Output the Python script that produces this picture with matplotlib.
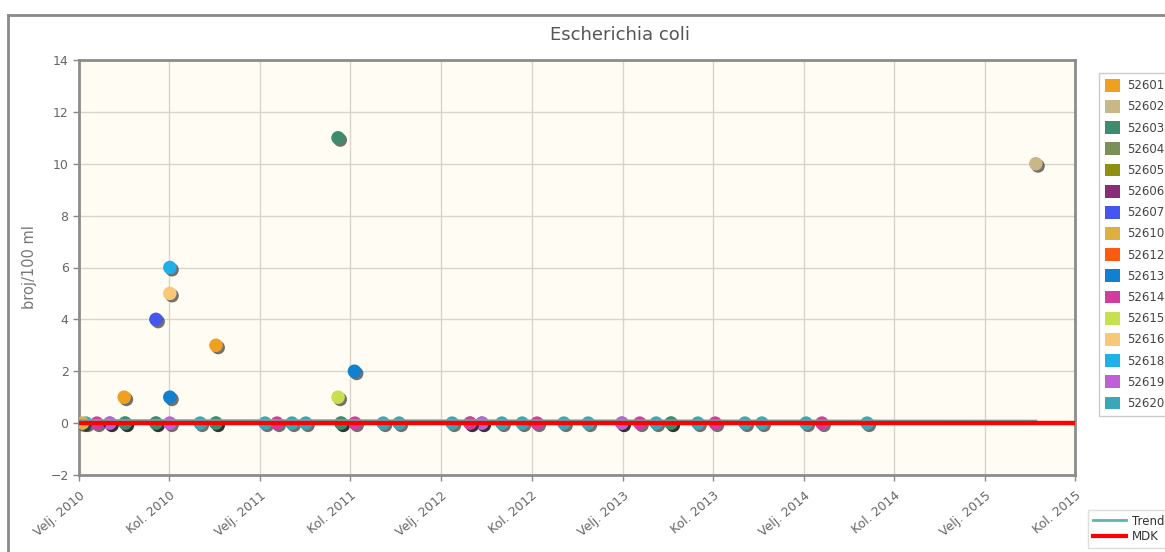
import numpy as np
import matplotlib
matplotlib.use("Agg")
import matplotlib.pyplot as plt
import matplotlib.patheffects as pe
from matplotlib.patches import Patch
from matplotlib.lines import Line2D
from datetime import date

# ---------------------------------------------------------------------
# data
stations = ["52601", "52602", "52603", "52604", "52605", "52606", "52607", "52610",
            "52612", "52613", "52614", "52615", "52616", "52618", "52619", "52620"]
colors = ["#f0a020", "#c8b888", "#3d8c6e", "#7a9058", "#909010", "#8a2c7a", "#4455f0", "#ddb040",
          "#ff5a10", "#1080d0", "#d03ca0", "#c8e050", "#f8c878", "#20b0e8", "#c060d8", "#38a8b8"]

s52601_dates = ["2010-05-03", "2010-11-04"]
s52601_vals = [1, 3]
s52602_dates = ["2015-05-14"]
s52602_vals = [10]
s52603_dates = ["2010-05-05", "2010-07-06", "2010-11-04", "2011-07-08", "2011-07-14",
                "2012-03-30", "2013-05-09"]
s52603_vals = [0, 0, 0, 11, 0, 0, 0]
s52607_dates = ["2010-07-06"]
s52607_vals = [4]
s52610_dates = ["2010-02-08"]
s52610_vals = [0]
s52613_dates = ["2010-08-03", "2011-08-10"]
s52613_vals = [1, 2]
s52614_dates = ["2010-03-09", "2011-03-07", "2011-08-11", "2012-03-30", "2012-08-12",
                "2013-03-07", "2013-08-06", "2014-03-09"]
s52614_vals = [0, 0, 0, 0, 0, 0, 0, 0]
s52615_dates = ["2011-07-08"]
s52615_vals = [1]
s52616_dates = ["2010-08-03"]
s52616_vals = [5]
s52618_dates = ["2010-08-03"]
s52618_vals = [6]
s52619_dates = ["2010-04-04", "2010-08-03", "2012-04-23", "2013-01-30"]
s52619_vals = [0, 0, 0, 0]
s52620_dates = ["2010-02-15", "2010-04-04", "2010-05-05", "2010-07-06", "2010-10-03",
                "2010-11-04", "2011-02-11", "2011-04-06", "2011-05-04", "2011-07-14",
                "2011-10-07", "2011-11-08", "2012-02-23", "2012-04-23", "2012-06-02",
                "2012-07-13", "2012-10-05", "2012-11-23", "2013-01-30", "2013-04-09",
                "2013-05-09", "2013-07-02", "2013-10-05", "2013-11-08", "2014-02-05",
                "2014-06-08"]
s52620_vals = [0] * 26

series = {
    "52601": (s52601_dates, s52601_vals),
    "52602": (s52602_dates, s52602_vals),
    "52603": (s52603_dates, s52603_vals),
    "52607": (s52607_dates, s52607_vals),
    "52610": (s52610_dates, s52610_vals),
    "52613": (s52613_dates, s52613_vals),
    "52614": (s52614_dates, s52614_vals),
    "52615": (s52615_dates, s52615_vals),
    "52616": (s52616_dates, s52616_vals),
    "52618": (s52618_dates, s52618_vals),
    "52619": (s52619_dates, s52619_vals),
    "52620": (s52620_dates, s52620_vals),
}
# draw order: zero-heavy series first so peaks sit on top
draw_order = ["52620", "52603", "52619", "52614", "52610", "52601", "52607",
              "52613", "52616", "52618", "52615", "52602"]

trend_dates = ["2010-02-01", "2015-05-14"]
trend_vals = [0.1, 0.08]
mdk_dates = ["2010-02-01", "2015-08-01"]
mdk_vals = [0, 0]

tick_dates = ["2010-02-01", "2010-08-01", "2011-02-01", "2011-08-01", "2012-02-01",
              "2012-08-01", "2013-02-01", "2013-08-01", "2014-02-01", "2014-08-01",
              "2015-02-01", "2015-08-01"]
tick_labels = ["Velj. 2010", "Kol. 2010", "Velj. 2011", "Kol. 2011", "Velj. 2012",
               "Kol. 2012", "Velj. 2013", "Kol. 2013", "Velj. 2014", "Kol. 2014",
               "Velj. 2015", "Kol. 2015"]


def _d(lst):
    return [date.fromisoformat(s) for s in lst]


# ---------------------------------------------------------------------
fig = plt.figure(figsize=(11.65, 5.52), dpi=100)
fig.patch.set_facecolor("white")
ax = fig.add_axes([79 / 1165, 1 - 475 / 552, (1075 - 79) / 1165, (475 - 60) / 552])
ax.set_facecolor("#fffcf3")

col = dict(zip(stations, colors))
shadow = [pe.SimplePatchShadow(offset=(1.6, -1.6), shadow_rgbFace="black", alpha=0.55),
          pe.Normal()]
for k in draw_order:
    dts, vals = series[k]
    ax.scatter(_d(dts), vals, s=95, color=col[k], edgecolors="none", zorder=3,
               path_effects=shadow)

ax.plot(_d(trend_dates), trend_vals, color="#5ab4b4", lw=2, zorder=4)
ax.plot(_d(mdk_dates), mdk_vals, color="#ff0000", lw=3.2, zorder=5)

ax.set_xlim(date(2010, 2, 1), date(2015, 8, 1))
ax.set_ylim(-2, 14)
ax.set_yticks(np.arange(-2, 15, 2))
ax.set_xticks(_d(tick_dates))
ax.set_xticklabels(tick_labels, rotation=40, ha="right", rotation_mode="anchor")
ax.tick_params(axis="both", colors="#888888", labelcolor="#666666", labelsize=9,
               length=4, width=1)
ax.tick_params(axis="x", pad=6)
ax.grid(True, color="#d8d4cc", lw=1)
ax.set_axisbelow(True)
for side in ["left", "bottom", "top", "right"]:
    ax.spines[side].set_color("#8c8c8c")
    ax.spines[side].set_linewidth(2)
ax.set_ylabel("broj/100 ml", color="#777777", fontsize=10.5)
ax.yaxis.set_label_coords(-0.042, 0.5)

fig.text(0.532, 1 - 35 / 552, "Escherichia coli", ha="center", va="center",
         fontsize=13, color="#555555")

# outer frame of the chart widget
fig.add_artist(Line2D([8 / 1165, 8 / 1165], [0, 1 - 15 / 552], color="#8a8a8a", lw=2))
fig.add_artist(Line2D([8 / 1165, 1.01], [1 - 15 / 552, 1 - 15 / 552], color="#8a8a8a", lw=2))

handles = [Patch(facecolor=c, edgecolor="none") for c in colors]
leg1 = fig.legend(handles, stations, loc="upper left",
                  bbox_to_anchor=(1093 / 1165, 1 - 67 / 552), fontsize=8.5,
                  handlelength=1.3, handleheight=1.3, handletextpad=0.6,
                  labelspacing=0.66, borderpad=0.5, fancybox=False,
                  edgecolor="#cccccc", framealpha=1)
for t in leg1.get_texts():
    t.set_color("#444444")

line_handles = [Line2D([], [], color="#5ab4b4", lw=2),
                Line2D([], [], color="#ff0000", lw=3)]
leg2 = fig.legend(line_handles, ["Trend", "MDK"], loc="upper left",
                  bbox_to_anchor=(1082 / 1165, 1 - 504 / 552), fontsize=8.5,
                  handlelength=2.8, handletextpad=0.5, labelspacing=0.2,
                  borderpad=0.4, fancybox=False, edgecolor="#dddddd", framealpha=1)
for t in leg2.get_texts():
    t.set_color("#333333")

fig.savefig("out.png", dpi=100)
